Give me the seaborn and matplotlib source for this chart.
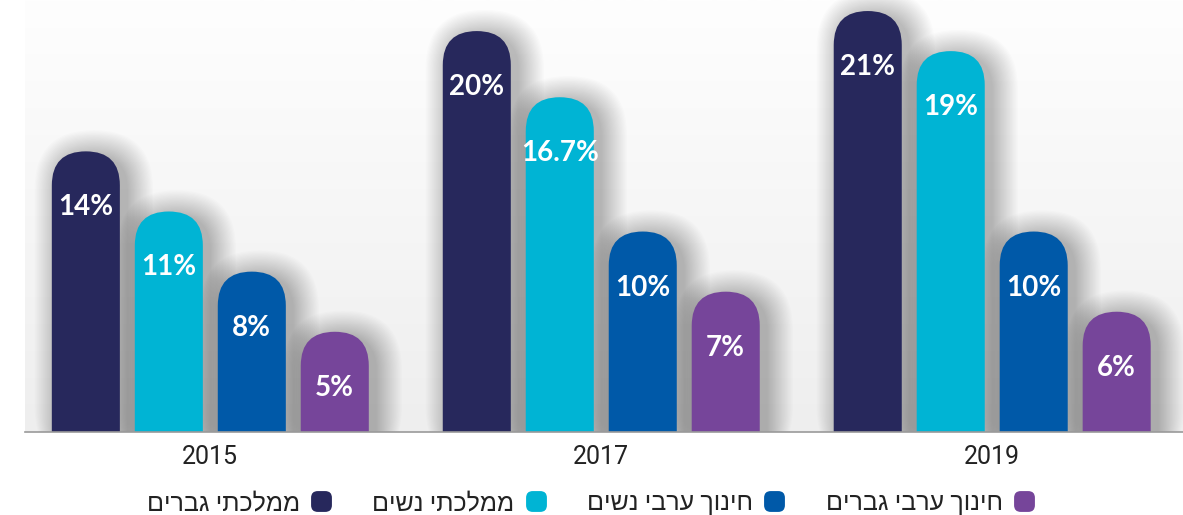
"""
Rounded bar chart - share by sector and year
"""

import pandas as pd
import matplotlib.pyplot as plt
import seaborn as sns
from matplotlib.patches import FancyBboxPatch
from matplotlib.lines import Line2D
from matplotlib.colors import LinearSegmentedColormap
import numpy as np

# data
years = ['2015', '2017', '2019']
groups = ['ממלכתי גברים', 'ממלכתי נשים', 'חינוך ערבי נשים', 'חינוך ערבי גברים']
mamlachti_men = [14, 20, 21]
mamlachti_women = [11, 16.7, 19]
arab_women = [8, 10, 10]
arab_men = [5, 7, 6]
colors = ['#27285c', '#00b4d4', '#0059a8', '#76459a']

series = [mamlachti_men, mamlachti_women, arab_women, arab_men]
rows = []
for g, vals in zip(groups, series):
    for y, v in zip(years, vals):
        rows.append({'year': y, 'group': g, 'value': v})
df = pd.DataFrame(rows)

sns.set_theme(style='white')
plt.rcParams['font.family'] = ['Roboto', 'Liberation Sans', 'DejaVu Sans']

W, H = 1183, 515
fig = plt.figure(figsize=(W / 100, H / 100), dpi=100)
ax = fig.add_axes([25 / W, 83 / H, 1158 / W, 432 / H])

# soft grey gradient background
grad = np.linspace(0, 1, 256).reshape(-1, 1)
cmap = LinearSegmentedColormap.from_list('bg', ['#eeeeee', '#fefefe'])
ax.imshow(grad, extent=(0, 1, 0, 1), transform=ax.transAxes, aspect='auto',
          cmap=cmap, origin='lower', zorder=0)

sns.barplot(data=df, x='year', y='value', hue='group', hue_order=groups,
            palette=colors, saturation=1, width=0.849, gap=0.18,
            legend=False, ax=ax, zorder=3)

ax.set_xlim(-0.474, 2.488)
ax.set_ylim(0, 21.55)

# pixel size of one data unit
p0, p1 = ax.transData.transform([(0, 0), (1, 1)])
px_x = p1[0] - p0[0]
px_y = p1[1] - p0[1]

# swap the square bars for bars with a round top, with a soft shadow
for cont, vals, col in zip(ax.containers, series, colors):
    for rect, v in zip(cont, vals):
        x, w, h = rect.get_x(), rect.get_width(), rect.get_height()
        rect.set_visible(False)
        rx = w / 2
        ry = rx * px_x / px_y
        for i in range(22):
            grow = i * 1.2
            gx = grow / px_x
            gy = grow / px_y
            sh = FancyBboxPatch((x + 8 / px_x - gx, -ry), w + 2 * gx,
                                h + ry + gy - 4 / px_y,
                                boxstyle=f'round,pad=0,rounding_size={rx + gx}',
                                mutation_aspect=ry / rx, fc='black', ec='none',
                                alpha=0.011, zorder=2)
            ax.add_patch(sh)
        bar = FancyBboxPatch((x, -ry), w, h + ry,
                             boxstyle=f'round,pad=0,rounding_size={rx}',
                             mutation_aspect=ry / rx, fc=col, ec='none', zorder=3)
        ax.add_patch(bar)
        ax.text(x + w / 2, h - 56 / px_y, f'{v:g}%', ha='center', va='center',
                color='white', fontsize=20, fontweight='bold',
                family=['Lato', 'DejaVu Sans'], zorder=5)

ax.set_xlabel('')
ax.set_ylabel('')
ax.set_yticks([])
for s in ['top', 'right', 'left']:
    ax.spines[s].set_visible(False)
ax.spines['bottom'].set_color('#9a9a9a')
ax.spines['bottom'].set_linewidth(1.2)
ax.spines['bottom'].set_zorder(6)
ax.tick_params(axis='x', length=0, pad=9, labelsize=18, labelcolor='#222222')

# rounded square marker for the legend
rbox = FancyBboxPatch((-0.5, -0.5), 1, 1, boxstyle='round,pad=0,rounding_size=0.32')
rpath = rbox.get_path()

# legend: Hebrew text is reversed since matplotlib draws left to right
handles = [Line2D([], [], ls='none', marker=rpath, markersize=15,
                  markerfacecolor=c, markeredgecolor='none')
           for c in colors]
leg = fig.legend(handles, [g[::-1] for g in groups], loc='center',
                 bbox_to_anchor=(0.5, 12 / H), ncol=4, markerfirst=False,
                 frameon=False, fontsize=18, handletextpad=0.35,
                 columnspacing=1.55, handlelength=1.0)
for t in leg.get_texts():
    t.set_color('#222222')

fig.savefig('out.png', dpi=100)
